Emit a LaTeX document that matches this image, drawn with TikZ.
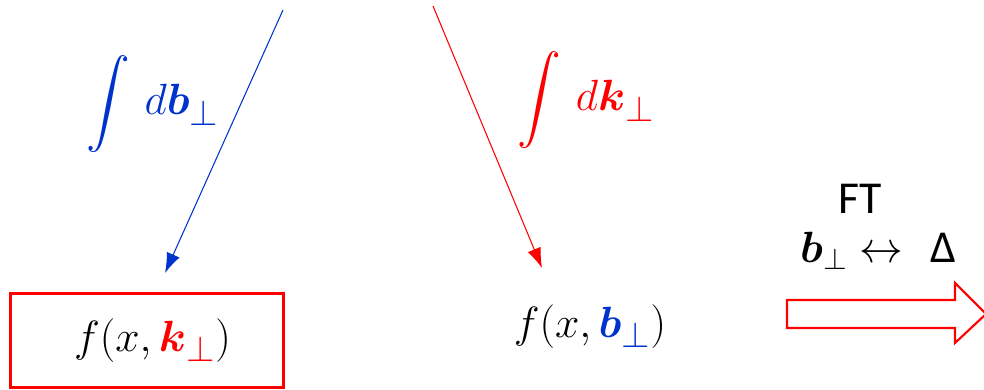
\documentclass[tikz,border=0pt]{standalone}
\usepackage{amsmath}
\usepackage{fontspec}
\newfontfamily\ftfont{Carlito}
\usetikzlibrary{calc,arrows.meta,positioning}
\definecolor{bblue}{RGB}{0,51,204}
\tikzset{
  big/.style={font=\fontsize{26}{30}\selectfont, inner sep=0pt},
  bigger/.style={font=\fontsize{28.5}{32}\selectfont, inner sep=0pt},
  pdfbox/.style={bigger, draw=red, line width=1.2pt, minimum width=5.46cm, minimum height=1.88cm},
  intarrow/.style={line width=0.6pt, -{Latex[length=4mm,width=2.8mm]}},
}
\begin{document}
\begin{tikzpicture}
    \useasboundingbox (0,0) rectangle (19.68,7.8);
    % the two distributions
    \node[pdfbox] (fk) at (2.94,0.99) {\hspace*{0.22cm}$f(x,\textcolor{red}{\boldsymbol{k}_\perp})$};
    \node[bigger] (fb) at (11.8,1.27) {$f(x,\textcolor{bblue}{\boldsymbol{b}_\perp})$};
    % integrations
    \coordinate (btop) at (5.66,7.6);
    \coordinate (bend) at (3.30,2.34);
    \coordinate (ktop) at (8.66,7.68);
    \coordinate (kend) at (10.84,2.44);
    \draw[intarrow,bblue] (btop) to (bend);
    \draw[intarrow,red] (ktop) to (kend);
    \node[bigger,bblue] (intb) at (3.05,5.72) {$\displaystyle\int\,d\boldsymbol{b}_\perp$};
    \node[bigger,red] (intk) at (11.72,5.80) {$\displaystyle\int\,d\boldsymbol{k}_\perp$};
    % Fourier transform
    \node[big] (ft) at (17.2,3.82) {\ftfont FT};
    \node[big] (bd) at (17.57,2.78) {$\boldsymbol{b}_\perp \leftrightarrow$~ {\ftfont Δ}};
    \draw[red, line width=1.2pt] (15.74,1.8) -- (19.1,1.8) -- (19.1,2.14) -- (19.72,1.52)
      -- (19.1,0.94) -- (19.1,1.24) -- (15.74,1.24) -- cycle;
\end{tikzpicture}
\end{document}
